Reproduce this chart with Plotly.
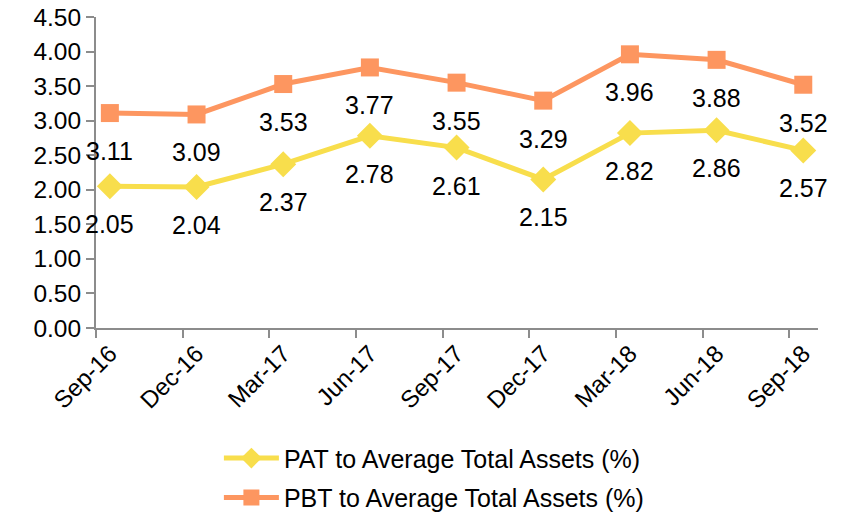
import plotly.graph_objects as go

# Quarter labels and ratios
quarters = ["Sep-16", "Dec-16", "Mar-17", "Jun-17", "Sep-17", "Dec-17", "Mar-18", "Jun-18", "Sep-18"]
pat_ratio = [2.05, 2.04, 2.37, 2.78, 2.61, 2.15, 2.82, 2.86, 2.57]
pbt_ratio = [3.11, 3.09, 3.53, 3.77, 3.55, 3.29, 3.96, 3.88, 3.52]

PAT_COLOR = "#F8DE4C"
PBT_COLOR = "#FD9660"
AXIS_COLOR = "#8C8C8C"
FONT = "Liberation Sans, Arial, sans-serif"

x_pos = list(range(len(quarters)))

fig = go.Figure()

fig.add_trace(go.Scatter(
    x=x_pos, y=pat_ratio, mode="lines+markers",
    name="PAT to Average Total Assets (%)",
    line=dict(color=PAT_COLOR, width=5),
    marker=dict(symbol="diamond", size=20, color=PAT_COLOR),
    legendgroup="pat",
))
fig.add_trace(go.Scatter(
    x=x_pos, y=pbt_ratio, mode="lines+markers",
    name="PBT to Average Total Assets (%)",
    line=dict(color=PBT_COLOR, width=5),
    marker=dict(symbol="square", size=18, color=PBT_COLOR),
    legendgroup="pbt",
))

# value labels sit below each marker
for series in (pat_ratio, pbt_ratio):
    for xi, v in zip(x_pos, series):
        fig.add_annotation(x=xi, y=v, text=f"{v:.2f}", showarrow=False,
                           yshift=-38, font=dict(size=25, color="black", family=FONT))

# the page body adds an 8px margin, so the figure is sized to fit the window
fig.update_layout(
    width=837, height=506,
    margin=dict(l=88, r=27, t=9, b=186, autoexpand=False),
    plot_bgcolor="white", paper_bgcolor="white",
    font=dict(family=FONT, size=25, color="black"),
    showlegend=True,
    legend=dict(orientation="v", x=0.468, xanchor="center", y=-0.345, yanchor="top",
                itemwidth=55, tracegroupgap=4, font=dict(size=25)),
)

fig.update_xaxes(
    range=[-0.16, 8.17], tickvals=x_pos, ticktext=quarters, tickangle=-45,
    ticks="", showgrid=False, zeroline=False, automargin=False,
    showline=True, linecolor=AXIS_COLOR, linewidth=2,
    minor=dict(tick0=-0.16, dtick=1, ticks="outside", ticklen=8,
               tickcolor=AXIS_COLOR, tickwidth=2, showgrid=False),
    tickfont=dict(size=24),
)
fig.update_yaxes(
    range=[0, 4.5], dtick=0.5, tickformat=".2f",
    ticks="outside", ticklen=8, tickcolor=AXIS_COLOR, tickwidth=2,
    showgrid=False, zeroline=False, automargin=False,
    showline=True, linecolor=AXIS_COLOR, linewidth=2,
    ticklabeloverflow="allow",
    tickfont=dict(size=24.5),
)

fig.write_html("out.html")
